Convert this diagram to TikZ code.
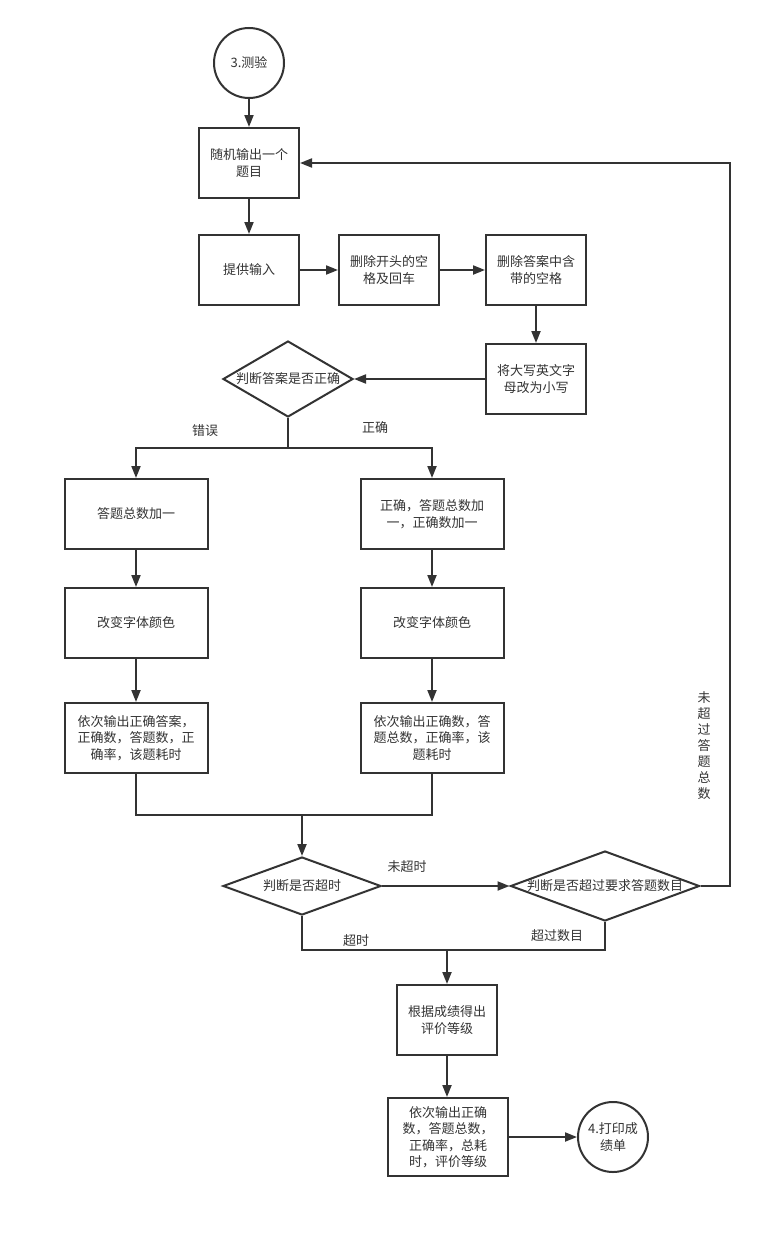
\documentclass[tikz,border=0pt]{standalone}
\usepackage{fontspec}
\setmainfont{Noto Sans CJK SC}
\usetikzlibrary{arrows.meta,shapes.geometric}
\definecolor{ink}{HTML}{333333}
\tikzset{
  box/.style={draw=ink,line width=2pt,minimum width=100pt,minimum height=70pt,align=center,inner sep=2pt},
  wide/.style={box,minimum width=143pt},
  ends/.style={draw=ink,line width=2pt,circle,minimum size=70pt,inner sep=0pt,align=center},
  dec/.style={draw=ink,line width=2pt,diamond,inner sep=0pt},
  lbl/.style={inner sep=0pt,align=center},
  line/.style={draw=ink,line width=2pt},
  arrow/.style={line,-{Triangle[length=12pt,width=9pt]}}
}
\begin{document}
\begin{tikzpicture}[x=1pt,y=-1pt,font=\fontsize{13pt}{16.5pt}\selectfont,text=ink]
\useasboundingbox[fill=white] (0,0) rectangle (778,1239);

% top chain
\node[ends] (start) at (249,63) {3.测验};
\node[box] (q) at (249,163) {随机输出一个\\题目};
\node[box] (input) at (249,270) {提供输入};
\node[box] (trim1) at (389,270) {删除开头的空\\格及回车};
\node[box] (trim2) at (536,270) {删除答案中含\\带的空格};
\node[box] (lower) at (536,379) {将大写英文字\\母改为小写};
\node[dec,minimum width=130pt,minimum height=76pt] (judge) at (288,379) {\makebox[0pt]{判断答案是否正确}};

% two branches
\node[wide] (w1) at (136,514) {答题总数加一};
\node[wide] (w2) at (136,623) {改变字体颜色};
\node[wide] (w3) at (136,738) {依次输出正确答案，\\正确数，答题数，正\\确率，该题耗时};
\node[wide] (r1) at (432,514) {正确，答题总数加\\一，正确数加一};
\node[wide] (r2) at (432,623) {改变字体颜色};
\node[wide] (r3) at (432,738) {依次输出正确数，答\\题总数，正确率，该\\题耗时};

% checks
\node[dec,minimum width=158pt,minimum height=58pt] (time) at (302,886) {\makebox[0pt]{判断是否超时}};
\node[dec,minimum width=189pt,minimum height=70pt] (count) at (605,886) {\makebox[0pt]{判断是否超过要求答题数目}};

% bottom
\node[box] (grade) at (447,1020) {根据成绩得出\\评价等级};
\node[box,minimum width=120pt,minimum height=78pt] (out) at (448,1137) {依次输出正确\\数，答题总数，\\正确率，总耗\\时，评价等级};
\node[ends] (stop) at (613,1137) {4.打印成\\绩单};

% labels
\node[lbl] (l-wrong) at (205,431) {错误};
\node[lbl] (l-right) at (375,428) {正确};
\node[lbl] (l-intime) at (407,867) {未超时};
\node[lbl] (l-over) at (356,941) {超时};
\node[lbl] (l-done) at (557,936) {超过数目};
\node[lbl,font=\fontsize{13pt}{16pt}\selectfont] (l-again) at (704,746) {未\\超\\过\\答\\题\\总\\数};

\coordinate (split) at (288,448);
\coordinate (merge) at (302,815);
\coordinate (loop) at (730,886);
\coordinate (join) at (447,950);

\draw[arrow] (start) -- (q);
\draw[arrow] (q) -- (input);
\draw[arrow] (input) -- (trim1);
\draw[arrow] (trim1) -- (trim2);
\draw[arrow] (trim2) -- (lower);
\draw[arrow] (lower) -- (judge.east);
\draw[line] (judge.south) -- (split);
\draw[arrow] (split) -| (w1.north);
\draw[arrow] (split) -| (r1.north);
\draw[arrow] (w1) -- (w2);
\draw[arrow] (w2) -- (w3);
\draw[arrow] (r1) -- (r2);
\draw[arrow] (r2) -- (r3);
\draw[line] (w3.south) |- (merge);
\draw[line] (r3.south) |- (merge);
\draw[arrow] (merge) -- (time.north);
\draw[arrow] (time.east) -- (count.west);
\draw[arrow] (count.east) -- (loop) |- (q.east);
\draw[line] (time.south) |- (join);
\draw[line] (count.south) |- (join);
\draw[arrow] (join) -- (grade.north);
\draw[arrow] (grade.south) -- (grade.south |- out.north);
\draw[arrow] (out) -- (stop);
\end{tikzpicture}
\end{document}
